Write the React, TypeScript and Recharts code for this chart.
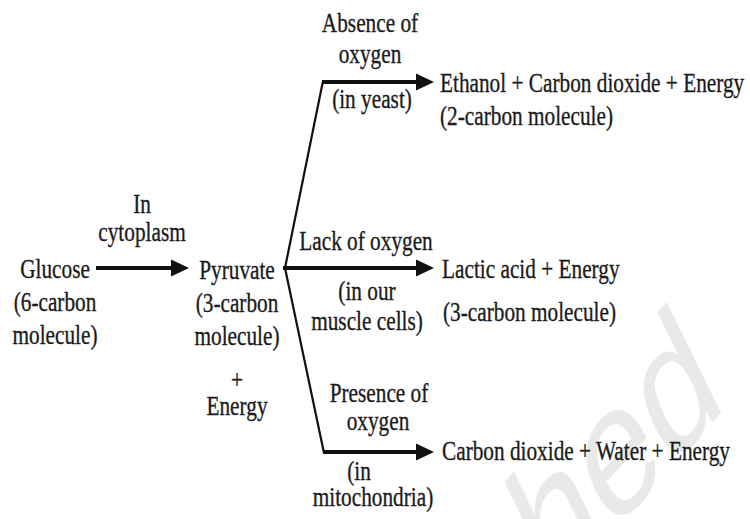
import React from "react";
import { ScatterChart, Scatter, XAxis, YAxis, ReferenceLine } from "recharts";

// diagram space: x 0..750, y 0..519 (y grows downward)
const LABELS = [
  { x: 55, y: 278, text: "Glucose" },
  { x: 55, y: 311, text: "(6-carbon" },
  { x: 55, y: 344, text: "molecule)" },
  { x: 142, y: 213, text: "In" },
  { x: 142, y: 241, text: "cytoplasm" },
  { x: 237, y: 279, text: "Pyruvate" },
  { x: 237, y: 312, text: "(3-carbon" },
  { x: 237, y: 345, text: "molecule)" },
  { x: 237, y: 389, text: "+" },
  { x: 237, y: 415, text: "Energy" },
  { x: 370, y: 32, text: "Absence of" },
  { x: 370, y: 63, text: "oxygen" },
  { x: 372, y: 108, text: "(in yeast)" },
  { x: 440, y: 92, text: "Ethanol + Carbon dioxide + Energy", anchor: "start" },
  { x: 440, y: 125, text: "(2-carbon molecule)", anchor: "start" },
  { x: 366, y: 250, text: "Lack of oxygen" },
  { x: 442, y: 278, text: "Lactic acid + Energy", anchor: "start" },
  { x: 367, y: 300, text: "(in our" },
  { x: 367, y: 330, text: "muscle cells)" },
  { x: 443, y: 321, text: "(3-carbon molecule)", anchor: "start" },
  { x: 379, y: 402, text: "Presence of" },
  { x: 378, y: 430, text: "oxygen" },
  { x: 442, y: 460, text: "Carbon dioxide + Water + Energy", anchor: "start" },
  { x: 359, y: 480, text: "(in" },
  { x: 373, y: 506, text: "mitochondria)" },
];

// arrow shafts (thick) and branch stems (thin)
const SHAFTS = [
  [{ x: 96, y: 268 }, { x: 176, y: 268 }],
  [{ x: 322, y: 82 }, { x: 420, y: 82 }],
  [{ x: 283, y: 268 }, { x: 420, y: 268 }],
  [{ x: 323, y: 452 }, { x: 420, y: 452 }],
];
const STEMS = [
  [{ x: 285, y: 268 }, { x: 323, y: 81 }],
  [{ x: 285, y: 268 }, { x: 324, y: 453 }],
];
const HEADS = [
  { x: 189, y: 268 },
  { x: 434, y: 82 },
  { x: 434, y: 268 },
  { x: 434, y: 452 },
];
const WATERMARK = [{ x: 728, y: 405, text: "Not to be republished" }];

const INK = "#1b1b1b";
const SERIF = "'Liberation Serif', 'Times New Roman', serif";

const TextShape = (p: any) => {
  const { cx, cy, payload } = p;
  return (
    <text
      transform={`translate(${cx},${cy}) scale(0.76,1)`}
      textAnchor={payload.anchor ?? "middle"}
      style={{ fontFamily: SERIF, fontSize: 28 }}
      fill={INK}
      stroke={INK}
      strokeWidth={0.35}
    >
      {payload.text}
    </text>
  );
};

const HeadShape = (p: any) => {
  const { cx, cy } = p;
  return <path d={`M${cx},${cy} L${cx - 18},${cy - 8.5} L${cx - 18},${cy + 8.5} Z`} fill="#111" />;
};

const MarkShape = (p: any) => {
  const { cx, cy, payload } = p;
  return (
    <text
      transform={`translate(${cx},${cy}) rotate(-48) skewX(-22)`}
      textAnchor="end"
      style={{ fontFamily: "'Liberation Sans', Arial, sans-serif", fontSize: 158 }}
      fill="#e9e9e9"
    >
      {payload.text}
    </text>
  );
};

export default function App() {
  return (
    <div style={{ position: "absolute", left: 0, top: 0, background: "#fff" }}>
      <ScatterChart width={750} height={519} margin={{ top: 0, right: 0, bottom: 0, left: 0 }}>
        <XAxis type="number" dataKey="x" domain={[0, 750]} hide />
        <YAxis type="number" dataKey="y" domain={[0, 519]} reversed hide />
        <Scatter data={WATERMARK} shape={MarkShape} isAnimationActive={false} />
        {STEMS.map((s, i) => (
          <ReferenceLine key={"s" + i} segment={s} stroke="#111" strokeWidth={2.2} />
        ))}
        {SHAFTS.map((s, i) => (
          <ReferenceLine key={"a" + i} segment={s} stroke="#111" strokeWidth={4} />
        ))}
        <Scatter data={HEADS} shape={HeadShape} isAnimationActive={false} />
        <Scatter data={LABELS} shape={TextShape} isAnimationActive={false} />
      </ScatterChart>
    </div>
  );
}
